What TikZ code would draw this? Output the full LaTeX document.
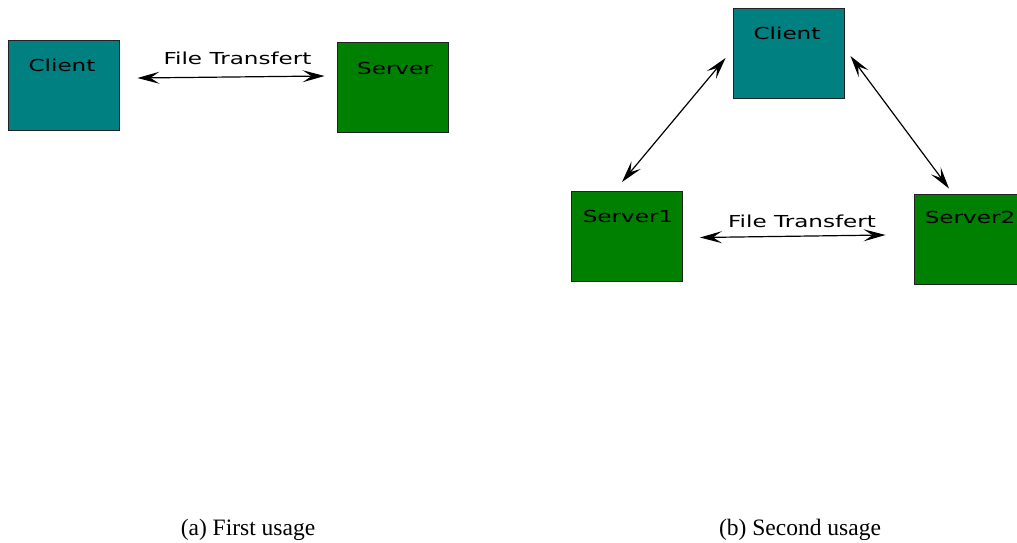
\documentclass[tikz,border=0pt]{standalone}
\usepackage{fontspec}
\setmainfont{Liberation Serif}
\newfontfamily\boxfont{DejaVu Sans}
\usetikzlibrary{arrows.meta}
\definecolor{UsageTeal}{HTML}{008080}
\definecolor{UsageGreen}{HTML}{008000}
\definecolor{UsageBorder}{HTML}{222222}

\begin{document}
\begin{tikzpicture}[x=1pt, y=-1pt,
    every node/.style={inner sep=0pt},
    box/.style={draw=UsageBorder, line width=0.9pt, minimum width=111pt, minimum height=90pt},
    clientbox/.style={box, fill=UsageTeal},
    serverbox/.style={box, fill=UsageGreen},
    boxtext/.style={anchor=base, font=\boxfont\fontsize{16.5}{18}\selectfont, xscale=1.4},
    caption/.style={anchor=base, font=\fontsize{23.5}{26}\selectfont},
    link/.style={line width=1.2pt, {Stealth[length=22pt,width=12pt,inset=9pt]}-{Stealth[length=22pt,width=12pt,inset=9pt]}}]
    \useasboundingbox (0,0) rectangle (1017,543);

    % (a) first usage
    \node[clientbox] (clientA) at (63.5,85) {};
    \node[serverbox] (serverA) at (392.5,87.5) {};
    \node[boxtext] (clientAtext) at ([xshift=-1.5pt, yshift=-32pt]clientA.north) {Client};
    \node[boxtext] (serverAtext) at ([xshift=2.5pt, yshift=-32.5pt]serverA.north) {Server};
    \node[boxtext] (transferA) at (237.5,65) {File Transfert};
    \draw[link] ([shift={(18pt,7pt)}]clientA.east) -- ([shift={(-12pt,11.5pt)}]serverA.west);

    % (b) second usage
    \node[clientbox] (clientB) at (788.5,53) {};
    \node[serverbox] (serverB1) at (627,236.5) {};
    \node[serverbox] (serverB2) at (969.5,239) {};
    \node[boxtext] (clientBtext) at ([xshift=-1.5pt, yshift=-32pt]clientB.north) {Client};
    \node[boxtext] (serverB1text) at ([xshift=1pt, yshift=-31pt]serverB1.north) {Server1};
    \node[boxtext] (serverB2text) at ([xshift=0.5pt, yshift=-30pt]serverB2.north) {Server2};
    \node[boxtext] (transferB) at (802,227) {File Transfert};
    \draw[link] ([shift={(-7pt,-5pt)}]clientB.west) -- ([shift={(-5pt,9pt)}]serverB1.north);
    \draw[link] ([shift={(6pt,-3pt)}]clientB.east) -- ([shift={(-20.5pt,5pt)}]serverB2.north);
    \draw[link] ([shift={(17pt,-1pt)}]serverB1.east) -- ([shift={(-28pt,4pt)}]serverB2.west);

    % captions
    \node[caption] (captionA) at (248,535) {(a) First usage};
    \node[caption] (captionB) at (800,535) {(b) Second usage};
\end{tikzpicture}
\end{document}
